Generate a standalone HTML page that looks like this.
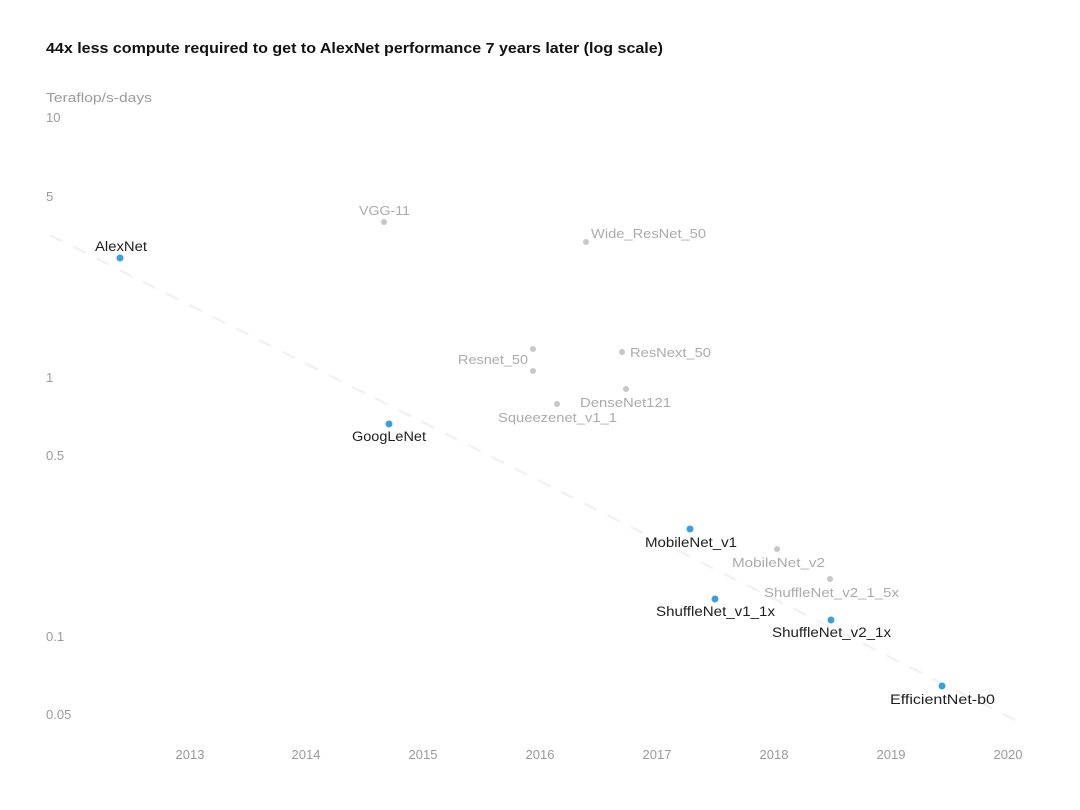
<!DOCTYPE html>
<html><head><meta charset="utf-8"><style>
html,body{margin:0;padding:0;background:#fff;}
svg{display:block;font-family:"Liberation Sans",sans-serif;}
.t{fill:#9a9a9a;font-size:13px;}
.g{fill:#ababab;font-size:13px;}
.b{fill:#1e1e1e;font-size:13.5px;}
</style></head><body>
<svg width="1080" height="810" viewBox="0 0 1080 810" xmlns="http://www.w3.org/2000/svg">
<rect width="1080" height="810" fill="#fff"/>
<text x="46" y="53" font-size="15" font-weight="bold" fill="#111" textLength="617" lengthAdjust="spacingAndGlyphs">44x less compute required to get to AlexNet performance 7 years later (log scale)</text>
<text class="t" x="46" y="102" textLength="106" lengthAdjust="spacingAndGlyphs">Teraflop/s-days</text>
<text class="t" x="46" y="122">10</text>
<text class="t" x="46" y="201">5</text>
<text class="t" x="46" y="382">1</text>
<text class="t" x="46" y="460">0.5</text>
<text class="t" x="46" y="641">0.1</text>
<text class="t" x="46" y="719">0.05</text>
<g class="t" text-anchor="middle">
<text x="190" y="759">2013</text><text x="306" y="759">2014</text><text x="423" y="759">2015</text><text x="540" y="759">2016</text>
<text x="657" y="759">2017</text><text x="774" y="759">2018</text><text x="891" y="759">2019</text><text x="1008" y="759">2020</text>
</g>
<line x1="50" y1="235" x2="1025" y2="725" stroke="#f1f2f6" stroke-width="2.5" stroke-dasharray="14 12"/>
<g fill="#c8c8c8">
<circle cx="384" cy="222" r="3"/><circle cx="586" cy="242" r="3"/><circle cx="533" cy="349" r="3"/><circle cx="533" cy="371" r="3"/>
<circle cx="622" cy="352" r="3"/><circle cx="626" cy="389" r="3"/><circle cx="557" cy="404" r="3"/><circle cx="777" cy="549" r="3"/><circle cx="830" cy="579" r="3"/>
</g>
<g fill="#3a9ee0">
<circle cx="120" cy="258" r="3.5"/><circle cx="389" cy="424" r="3.5"/><circle cx="690" cy="529" r="3.5"/><circle cx="715" cy="599" r="3.5"/><circle cx="831" cy="620" r="3.5"/><circle cx="942" cy="686" r="3.5"/>
</g>
<g class="g">
<text x="359" y="215" textLength="51" lengthAdjust="spacingAndGlyphs">VGG-11</text>
<text x="591" y="238" textLength="115" lengthAdjust="spacingAndGlyphs">Wide_ResNet_50</text>
<text x="458" y="364" textLength="70" lengthAdjust="spacingAndGlyphs">Resnet_50</text>
<text x="630" y="357" textLength="81" lengthAdjust="spacingAndGlyphs">ResNext_50</text>
<text x="580" y="407" textLength="91" lengthAdjust="spacingAndGlyphs">DenseNet121</text>
<text x="498" y="422" textLength="119" lengthAdjust="spacingAndGlyphs">Squeezenet_v1_1</text>
<text x="732" y="567" textLength="93" lengthAdjust="spacingAndGlyphs">MobileNet_v2</text>
<text x="764" y="597" textLength="135" lengthAdjust="spacingAndGlyphs">ShuffleNet_v2_1_5x</text>
</g>
<g class="b">
<text x="95" y="251" textLength="52" lengthAdjust="spacingAndGlyphs">AlexNet</text>
<text x="352" y="441" textLength="74" lengthAdjust="spacingAndGlyphs">GoogLeNet</text>
<text x="645" y="547" textLength="92" lengthAdjust="spacingAndGlyphs">MobileNet_v1</text>
<text x="656" y="616" textLength="119" lengthAdjust="spacingAndGlyphs">ShuffleNet_v1_1x</text>
<text x="772" y="637" textLength="119" lengthAdjust="spacingAndGlyphs">ShuffleNet_v2_1x</text>
<text x="890" y="704" textLength="105" lengthAdjust="spacingAndGlyphs">EfficientNet-b0</text>
</g>
</svg>
</body></html>
